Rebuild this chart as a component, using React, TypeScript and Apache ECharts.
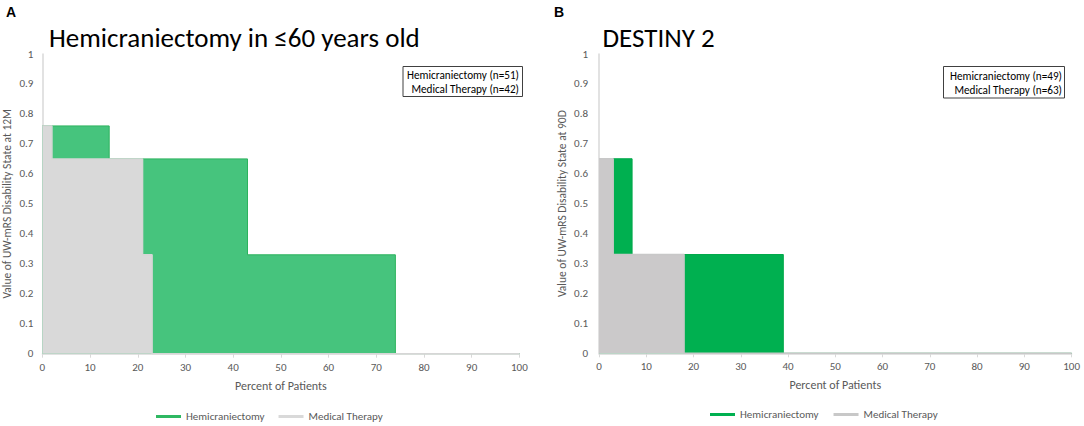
import React, { useEffect, useRef } from "react";
import * as echarts from "echarts";

// Panel A: Hemicraniectomy in ≤60 years old (step breakpoints: percent of patients, UW-mRS value)
const hemiA_x = [0, 14, 43, 74, 100];
const hemiA_y = [0.76, 0.65, 0.33, 0, 0];
const medA_x = [0, 2, 21, 23, 100];
const medA_y = [0.76, 0.65, 0.33, 0, 0];

// Panel B: DESTINY 2
const hemiB_x = [0, 7, 39, 100];
const hemiB_y = [0.65, 0.33, 0, 0];
const medB_x = [0, 3, 18, 100];
const medB_y = [0.65, 0.33, 0, 0];

const titles = ["Hemicraniectomy in ≤60 years old", "DESTINY 2"];
const panelLetters = ["A", "B"];
const yNames = [
  "Value of UW-mRS Disability State at 12M",
  "Value of UW-mRS Disability State at 90D",
];
const xName = "Percent of Patients";
const seriesNames = ["Hemicraniectomy", "Medical Therapy"];
const boxLinesA = ["Hemicraniectomy (n=51)", "Medical Therapy (n=42)"];
const boxLinesB = ["Hemicraniectomy (n=49)", "Medical Therapy (n=63)"];

const FONT = "Carlito, Lato, sans-serif";
const TICK = "#595959";

const zip = (xs: number[], ys: number[]) => xs.map((x, i) => [x, ys[i]]);

export default function App() {
  const ref = useRef<HTMLDivElement>(null);
  useEffect(() => {
    if (!ref.current) return;
    const chart = echarts.init(ref.current, undefined, { renderer: "svg" });

    const mkX = (gi: number) => ({
      type: "value",
      gridIndex: gi,
      min: 0,
      max: 100,
      interval: 10,
      name: xName,
      nameLocation: "middle",
      nameGap: 26,
      nameTextStyle: { color: TICK, fontSize: 12, fontFamily: FONT },
      axisLine: { show: true, lineStyle: { color: "#d9d9d9", width: 1.5 } },
      axisTick: { show: true, length: 4, lineStyle: { color: "#d9d9d9" } },
      axisLabel: { color: TICK, fontSize: 11, fontFamily: FONT, margin: 8 },
      splitLine: { show: false },
    });
    const mkY = (gi: number) => ({
      type: "value",
      gridIndex: gi,
      min: 0,
      max: 1,
      interval: 0.1,
      name: yNames[gi],
      nameLocation: "middle",
      nameGap: gi === 0 ? 29 : 31,
      nameTextStyle: { color: TICK, fontSize: 11.5, fontFamily: FONT },
      axisLine: { show: true, lineStyle: { color: "#d9d9d9", width: 1.5 } },
      axisTick: { show: false },
      axisLabel: { color: TICK, fontSize: 11, fontFamily: FONT, margin: gi === 0 ? 9 : 11 },
      splitLine: { show: false },
    });
    const mkSeries = (
      name: string,
      gi: number,
      data: number[][],
      fill: string,
      line: string,
      lw: number,
      z: number
    ) => ({
      type: "line",
      name,
      xAxisIndex: gi,
      yAxisIndex: gi,
      data,
      step: "end",
      symbol: "none",
      showSymbol: false,
      z,
      lineStyle: { color: line, width: lw },
      itemStyle: { color: line },
      areaStyle: { color: fill, opacity: 1 },
      emphasis: { disabled: true },
    });

    const boxGraphic = (
      lines: string[],
      bx: number,
      by: number,
      bw: number,
      bh: number,
      tx: number,
      ty: number[]
    ) => [
      {
        type: "rect",
        shape: { x: bx, y: by, width: bw, height: bh },
        style: { fill: "#ffffff", stroke: "#404040", lineWidth: 1 },
      },
      ...lines.map((t, i) => ({
        type: "text",
        x: tx,
        y: ty[i],
        style: {
          text: t,
          fill: "#000000",
          font: `11.2px ${FONT}`,
          textAlign: "right",
          textVerticalAlign: "middle",
        },
      })),
    ];

    const legendCommon = {
      orient: "horizontal",
      icon: "rect",
      itemWidth: 25,
      itemHeight: 3,
      padding: 0,
      selectedMode: false,
      textStyle: { color: TICK, fontSize: 11, fontFamily: FONT },
    };

    const letter = (t: string, x: number) => ({
      type: "text",
      x,
      y: 12,
      style: {
        text: t,
        fill: "#000",
        font: "bold 14px Arial, 'Liberation Sans', sans-serif",
        textVerticalAlign: "middle",
      },
    });
    const title = (t: string, x: number) => ({
      type: "text",
      x,
      y: 37,
      style: {
        text: t,
        fill: "#000",
        font: `27px ${FONT}`,
        textVerticalAlign: "middle",
      },
    });

    chart.setOption({
      animation: false,
      grid: [
        { left: 42.4, top: 54, width: 477, height: 299.7 },
        { left: 599, top: 54, width: 472.6, height: 299.3 },
      ],
      xAxis: [mkX(0), mkX(1)],
      yAxis: [mkY(0), mkY(1)],
      legend: [
        {
          ...legendCommon,
          left: 156,
          top: 411,
          itemGap: 14,
          data: [
            { name: seriesNames[0], itemStyle: { color: "#2fb862", borderWidth: 0 } },
            { name: seriesNames[1], itemStyle: { color: "#d9d9d9", borderWidth: 0 } },
          ],
        },
        {
          ...legendCommon,
          left: 710,
          top: 409,
          itemGap: 15,
          data: [
            { name: seriesNames[0], itemStyle: { color: "#00b050", borderWidth: 0 } },
            { name: seriesNames[1], itemStyle: { color: "#c8c8c8", borderWidth: 0 } },
          ],
        },
      ],
      series: [
        mkSeries(seriesNames[0], 0, zip(hemiA_x, hemiA_y), "#46c47d", "#2db35e", 1, 2),
        mkSeries(seriesNames[1], 0, zip(medA_x, medA_y), "#d9d9d9", "#d6d6d6", 1.5, 3),
        mkSeries(seriesNames[0], 1, zip(hemiB_x, hemiB_y), "#00b050", "#00a84a", 1, 2),
        mkSeries(seriesNames[1], 1, zip(medB_x, medB_y), "#cbc9ca", "#c8c8c8", 1.5, 3),
      ],
      graphic: [
        letter(panelLetters[0], 6),
        letter(panelLetters[1], 554),
        title(titles[0], 49),
        title(titles[1], 602.5),
        ...boxGraphic(boxLinesA, 403, 66.5, 119.5, 30, 519, [75, 89]),
        ...boxGraphic(boxLinesB, 943.5, 66.5, 121, 31.5, 1062, [75.5, 89.5]),
      ],
    });
    return () => chart.dispose();
  }, []);
  return (
    <div
      ref={ref}
      style={{ position: "fixed", left: 0, top: 0, width: 1084, height: 426, background: "#fff" }}
    />
  );
}
